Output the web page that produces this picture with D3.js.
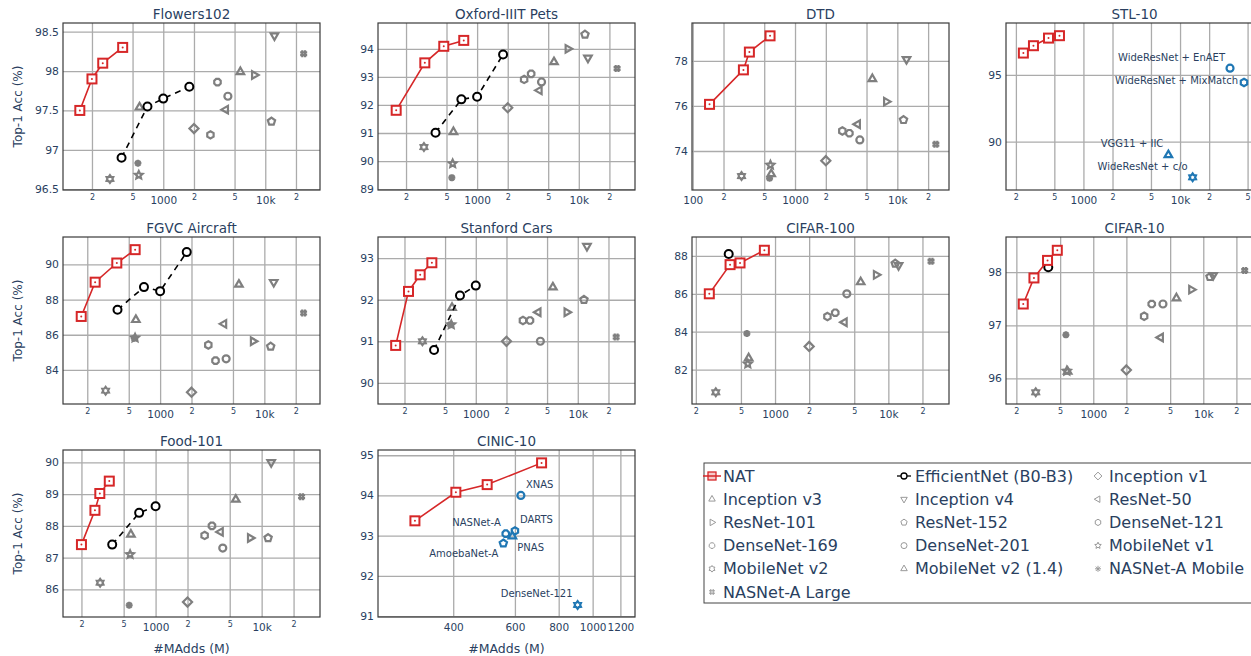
<!DOCTYPE html>
<html>
<head>
<meta charset="utf-8">
<script src="https://cdn.jsdelivr.net/npm/d3@7"></script>
<style>
  body { margin: 0; background: #fff; }
  svg { display: block; font-family: "DejaVu Sans", Verdana, sans-serif; }
</style>
</head>
<body>
<svg id="chart"></svg>
<script>
// ---- data ----
const datasets = ['Flowers102', 'Oxford-IIIT Pets', 'DTD', 'STL-10', 'FGVC Aircraft',
  'Stanford Cars', 'CIFAR-100', 'CIFAR-10', 'Food-101', 'CINIC-10']

// NAT models (M1-M4) per dataset
const natMAdds = [
  [152, 200, 255, 400], [160, 306, 470, 739], [146, 313, 358, 570], [239, 304, 435, 565],
  [175, 238, 384, 576], [164, 219, 285, 371], [263, 401, 491, 805], [231, 289, 384, 471],
  [200, 268, 298, 366], [311, 407, 500, 715]
]
const natAcc = [
  [97.5, 97.9, 98.1, 98.3], [91.81, 93.5, 94.09, 94.3], [76.07, 77.6, 78.39, 79.11], [96.63, 97.18, 97.75, 97.93],
  [87.04, 88.99, 90.08, 90.84], [90.9, 92.2, 92.6, 92.89], [86.0, 87.54, 87.63, 88.3], [97.4, 97.89, 98.22, 98.41],
  [87.41, 88.49, 89.02, 89.41], [93.37, 94.08, 94.27, 94.81]
]

// EfficientNet B0-B3
const effMAdds = [390, 700, 1000, 1800]
const effAcc = [
  [96.9, 97.55, 97.65, 97.8], [91.01, 92.2, 92.29, 93.8], null, null,
  [87.42, 88.71, 88.48, 90.7], [90.79, 92.1, 92.34], [88.1], [98.09],
  [87.41, 88.41, 88.62], null
]

// hand-designed baselines
const baseNames = ['Inception v1', 'Inception v3', 'Inception v4', 'ResNet-50', 'ResNet-101', 'ResNet-152',
  'DenseNet-121', 'DenseNet-169', 'DenseNet-201', 'MobileNet v1', 'MobileNet v2', 'MobileNet v2 (1.4)',
  'NASNet-A Mobile', 'NASNet-A Large']
const baseMAdds = [2000, 5700, 12300, 4100, 7800, 11500, 2900, 3400, 4300, 575, 300, 585, 564, 23800]
const baseAcc = [
  [97.27, 97.99, 98.45, 97.51, 97.95, 97.36, 97.19, 97.86, 97.68, 96.68, 96.63, 97.54, 96.83, 98.22],
  [91.9, 93.53, 93.68, 92.52, 94.0, 94.51, 92.91, 93.11, 92.82, 89.91, 90.5, 91.04, 89.41, 93.3],
  [73.57, 77.2, 78.07, 75.19, 76.19, 75.38, 74.89, 74.79, 74.49, 73.38, 72.89, 72.98, 72.79, 74.3],
  null,
  [82.73, 88.86, 88.99, 86.62, 85.63, 85.33, 85.42, 84.53, 84.63, 85.82, 82.82, 86.85, 85.8, 87.23],
  [91.0, 92.3, 93.29, 91.7, 91.7, 92.0, 91.5, 91.5, 91.0, 91.4, 91.0, 91.81, 91.4, 91.1],
  [83.22, 86.62, 87.5, 84.5, 87.0, 87.6, 84.8, 85.0, 86.0, 82.3, 80.8, 82.6, 83.9, 87.72],
  [96.16, 97.51, 97.94, 96.77, 97.67, 97.91, 97.17, 97.4, 97.4, 96.14, 95.74, 96.13, 96.82, 98.03],
  [85.6, 88.83, 90.0, 87.81, 87.62, 87.62, 87.7, 88.0, 87.3, 87.1, 86.21, 87.73, 85.5, 88.92],
  null
]

// STL-10 other methods
const stlNames = ['WideResNet + EnAET', 'WideResNet + MixMatch', 'VGG11 + IIC', 'WideResNet + c/o']
const stlMAdds = [32900, 45900, 7570, 13500]
const stlAcc = [95.5, 94.43, 89.0, 87.33]

// CINIC-10 other methods
const cinicNames = ['XNAS', 'DARTS', 'NASNet-A', 'PNAS', 'AmoebaNet-A', 'DenseNet-121']
const cinicMAdds = [624, 600, 565, 590, 556, 906]
const cinicAcc = [94.0, 93.12, 93.05, 92.99, 92.81, 91.28]

// ticks
const logTicks = [100, 200, 500, 1000, 2000, 5000, 10000, 20000, 50000]
const cinicTicks = [400, 600, 800, 1000, 1200]
const yTicks = [
  [96.5, 97, 97.5, 98, 98.5], [89, 90, 91, 92, 93, 94], [74, 76, 78], [90, 95], [84, 86, 88, 90],
  [90, 91, 92, 93], [82, 84, 86, 88], [96, 97, 98], [86, 87, 88, 89, 90], [91, 92, 93, 94, 95]
]

// ---- layout ----
const W = 1251, H = 656
const colX = [63, 378, 692, 1006]
const rowY = [23, 237, 450]
const plotW = 257, plotH = 167
const xRanges = [[104, 34400], [106, 35700], [98.4, 32000], [158, 72200], [117, 34200],
  [110, 36400], [185, 34300], [161, 34900], [134, 35500], [244, 1321]]
const yRanges = [[96.49, 98.61], [88.97, 94.92], [72.27, 79.68], [86.38, 98.88], [82.06, 91.56],
  [89.49, 93.51], [80.18, 89.0], [95.52, 98.66], [85.13, 90.39], [90.98, 95.13]]

const textColor = '#2a3f5f'
const gridColor = '#ababab'
const natColor = '#d62728'
const baseColor = '#7f7f7f'
const otherColor = '#1f77b4'

const baseSymbols = ['diamond', 'triangle-up', 'triangle-down', 'triangle-left', 'triangle-right', 'pentagon',
  'hexagon', 'octagon', 'circle', 'star', 'hexagram', 'triangle-up', 'asterisk', 'hash']
const stlSymbols = ['circle', 'hexagon', 'triangle-up', 'hexagram']
const stlLabelPos = ['top left', 'middle left', 'top left', 'top left']
const cinicSymbols = ['circle', 'hexagon', 'octagon', 'triangle-up', 'pentagon', 'hexagram']
const cinicLabelPos = ['top right', 'top right', 'top left', 'bottom right', 'bottom left', 'top left']
const labelOffsets = {
  'top left': [-5, -11, 'end'],
  'top right': [5, -11, 'start'],
  'bottom left': [-5, 10, 'end'],
  'bottom right': [5, 11, 'start'],
  'middle left': [-6, -2, 'end']
}

// ---- symbols ----
function poly(n, r, rot) {
  const pts = d3.range(n).map(k => {
    const a = rot + k * 2 * Math.PI / n
    return [r * Math.sin(a), -r * Math.cos(a)]
  })
  return 'M' + pts.map(p => p[0].toFixed(2) + ',' + p[1].toFixed(2)).join('L') + 'Z'
}
function starPath(n, ro, ri) {
  const pts = d3.range(2 * n).map(k => {
    const a = k * Math.PI / n
    const r = k % 2 ? ri : ro
    return [r * Math.sin(a), -r * Math.cos(a)]
  })
  return 'M' + pts.map(p => p[0].toFixed(2) + ',' + p[1].toFixed(2)).join('L') + 'Z'
}
function symbolPath(name, r) {
  switch (name) {
    case 'square': return poly(4, r * 1.41, Math.PI / 4)
    case 'diamond': return poly(4, r * 1.3, 0)
    case 'triangle-up': return poly(3, r * 1.25, 0)
    case 'triangle-down': return poly(3, r * 1.25, Math.PI)
    case 'triangle-left': return poly(3, r * 1.25, -Math.PI / 2)
    case 'triangle-right': return poly(3, r * 1.25, Math.PI / 2)
    case 'pentagon': return poly(5, r * 1.1, 0)
    case 'hexagon': return poly(6, r * 1.05, 0)
    case 'octagon': return poly(8, r, Math.PI / 8)
    case 'star': return starPath(5, r * 1.15, r * 0.55)
    case 'hexagram': return starPath(6, r * 1.1, r * 0.7)
    case 'asterisk': {
      const d = r * 0.72
      return `M0,${-r}V${r}M${-r},0H${r}M${-d},${-d}L${d},${d}M${d},${-d}L${-d},${d}`
    }
    case 'hash': {
      const t = r / 2.5
      return `M${-t},${-r}V${r}M${t},${-r}V${r}M${-r},${-t}H${r}M${-r},${t}H${r}`
    }
    default: return d3.symbol(d3.symbolCircle, Math.PI * r * r)()
  }
}

const svg = d3.select('#chart').attr('width', W).attr('height', H)
svg.append('rect').attr('width', W).attr('height', H).attr('fill', '#fff')

function tickText(v) {
  if (v === 100 || v === 1000) return String(v)
  if (v === 10000) return '10k'
  return String(v).charAt(0)
}

datasets.forEach((name, i) => {
  const px = colX[i % 4], py = rowY[Math.floor(i / 4)]
  const g = svg.append('g').attr('transform', `translate(${px},${py})`)
  const isCinic = name === 'CINIC-10'

  const x = d3.scaleLog().domain(xRanges[i]).range([0, plotW])
  const y = d3.scaleLinear().domain(yRanges[i]).range([plotH, 0])

  const xt = isCinic ? cinicTicks : logTicks.filter(v => v >= xRanges[i][0] && v <= xRanges[i][1])
  const isMinor = v => !isCinic && v !== 100 && v !== 1000 && v !== 10000

  // x grid + labels
  const gx = g.append('g')
    .attr('transform', `translate(0,${plotH})`)
    .call(d3.axisBottom(x).tickValues(xt).tickFormat(isCinic ? d3.format('d') : tickText).tickSize(-plotH))
  gx.select('.domain').remove()
  gx.selectAll('.tick line').attr('stroke', gridColor).attr('stroke-width', 1.3)
  gx.selectAll('.tick text')
    .attr('fill', textColor)
    .attr('font-family', '"DejaVu Sans", Verdana, sans-serif')
    .attr('font-size', d => isMinor(d) ? 8 : 10.5)
    .attr('y', d => isMinor(d) ? 7 : 10)
    .attr('dy', '0.35em')

  // y grid + labels
  const gy = g.append('g')
    .call(d3.axisLeft(y).tickValues(yTicks[i]).tickFormat(d3.format('')).tickSize(-plotW).tickPadding(4))
  gy.select('.domain').remove()
  gy.selectAll('.tick line').attr('stroke', gridColor).attr('stroke-width', 1.3)
  gy.selectAll('.tick text')
    .attr('fill', textColor)
    .attr('font-family', '"DejaVu Sans", Verdana, sans-serif')
    .attr('font-size', 10.8)

  // frame
  g.append('rect')
    .attr('width', plotW).attr('height', plotH)
    .attr('fill', 'none').attr('stroke', '#3a3a3a').attr('stroke-width', 1.2)

  // title
  g.append('text')
    .attr('x', plotW / 2).attr('y', -9)
    .attr('dy', '0.35em')
    .attr('text-anchor', 'middle')
    .attr('fill', textColor)
    .attr('font-size', 13.5)
    .text(name)

  const plot = g.append('g')

  // baselines
  if (baseAcc[i]) {
    baseAcc[i].forEach((acc, k) => {
      plot.append('path')
        .attr('d', symbolPath(baseSymbols[k], 3.5))
        .attr('transform', `translate(${x(baseMAdds[k])},${y(acc)})`)
        .attr('fill', 'none')
        .attr('stroke', baseColor)
        .attr('stroke-width', 2.2)
    })
  }

  // other methods with labels
  const others = name === 'STL-10' ? [stlNames, stlMAdds, stlAcc, stlSymbols, stlLabelPos]
    : isCinic ? [cinicNames, cinicMAdds, cinicAcc, cinicSymbols, cinicLabelPos] : null
  if (others) {
    const [nm, mx, ac, sy, lp] = others
    nm.forEach((label, k) => {
      const cx = x(mx[k]), cy = y(ac[k])
      plot.append('path')
        .attr('d', symbolPath(sy[k], 3.5))
        .attr('transform', `translate(${cx},${cy})`)
        .attr('fill', 'none')
        .attr('stroke', otherColor)
        .attr('stroke-width', 2.2)
      const off = labelOffsets[lp[k]]
      plot.append('text')
        .attr('x', cx + off[0]).attr('y', cy + off[1])
        .attr('dy', '0.35em')
        .attr('text-anchor', off[2])
        .attr('fill', textColor)
        .attr('font-size', 10)
        .text(label)
    })
  }

  // EfficientNet
  if (effAcc[i]) {
    const pts = effAcc[i].map((acc, k) => [effMAdds[k], acc])
    plot.append('path')
      .datum(pts)
      .attr('d', d3.line().x(d => x(d[0])).y(d => y(d[1])))
      .attr('fill', 'none')
      .attr('stroke', '#000')
      .attr('stroke-width', 1.6)
      .attr('stroke-dasharray', '6,5')
    plot.selectAll(null).data(pts).join('circle')
      .attr('cx', d => x(d[0])).attr('cy', d => y(d[1]))
      .attr('r', 4)
      .attr('fill', '#fff')
      .attr('stroke', '#000')
      .attr('stroke-width', 2)
  }

  // NAT
  const nat = natMAdds[i].map((m, k) => [m, natAcc[i][k]])
  plot.append('path')
    .datum(nat)
    .attr('d', d3.line().x(d => x(d[0])).y(d => y(d[1])))
    .attr('fill', 'none')
    .attr('stroke', natColor)
    .attr('stroke-width', 1.6)
  plot.selectAll(null).data(nat).join('rect')
    .attr('x', d => x(d[0]) - 4.5).attr('y', d => y(d[1]) - 4.5)
    .attr('width', 9).attr('height', 9)
    .attr('fill', '#fff')
    .attr('stroke', natColor)
    .attr('stroke-width', 2)
  plot.selectAll(null).data(nat).join('circle')
    .attr('cx', d => x(d[0])).attr('cy', d => y(d[1]))
    .attr('r', 1)
    .attr('fill', natColor)

  // axis titles
  if (i % 4 === 0) {
    g.append('text')
      .attr('transform', `translate(${18 - px},${plotH / 2}) rotate(-90)`)
      .attr('text-anchor', 'middle')
      .attr('dy', '0.35em')
      .attr('fill', textColor)
      .attr('font-size', 12)
      .text('Top-1 Acc (%)')
  }
  if (i >= 8) {
    g.append('text')
      .attr('x', plotW / 2).attr('y', 649 - py)
      .attr('dy', '0.35em')
      .attr('text-anchor', 'middle')
      .attr('fill', textColor)
      .attr('font-size', 12.5)
      .text('#MAdds (M)')
  }
})

// ---- legend ----
const legendNames = ['NAT', 'EfficientNet (B0-B3)'].concat(baseNames)
const legendSymbols = ['nat', 'eff'].concat(baseSymbols)
const legCol = [712, 904, 1098]
const legRow0 = 476, legStep = 23.2

const legend = svg.append('g')
legend.append('rect')
  .attr('x', 704).attr('y', 463).attr('width', 560).attr('height', 140)
  .attr('fill', '#fff').attr('stroke', '#444').attr('stroke-width', 1)

legendNames.forEach((label, k) => {
  const lx = legCol[k % 3], ly = legRow0 + Math.floor(k / 3) * legStep
  const sym = legendSymbols[k]
  if (sym === 'nat') {
    legend.append('line').attr('x1', lx - 9).attr('x2', lx + 9).attr('y1', ly).attr('y2', ly)
      .attr('stroke', natColor).attr('stroke-width', 1.5)
    legend.append('rect').attr('x', lx - 4).attr('y', ly - 4).attr('width', 8).attr('height', 8)
      .attr('fill', 'rgba(214,39,40,0.25)').attr('stroke', natColor).attr('stroke-width', 1.3)
  } else if (sym === 'eff') {
    legend.append('line').attr('x1', lx - 7).attr('x2', lx + 7).attr('y1', ly).attr('y2', ly)
      .attr('stroke', '#000').attr('stroke-width', 1.3)
    legend.append('circle').attr('cx', lx).attr('cy', ly).attr('r', 3)
      .attr('fill', '#fff').attr('stroke', '#000').attr('stroke-width', 1.3)
  } else {
    legend.append('path')
      .attr('d', symbolPath(sym, 3))
      .attr('transform', `translate(${lx},${ly})`)
      .attr('fill', 'none').attr('stroke', '#999').attr('stroke-width', 1)
  }
  legend.append('text')
    .attr('x', lx + 11).attr('y', ly)
    .attr('dy', '0.35em')
    .attr('fill', textColor)
    .attr('font-size', 16)
    .text(label)
})
</script>
</body>
</html>
